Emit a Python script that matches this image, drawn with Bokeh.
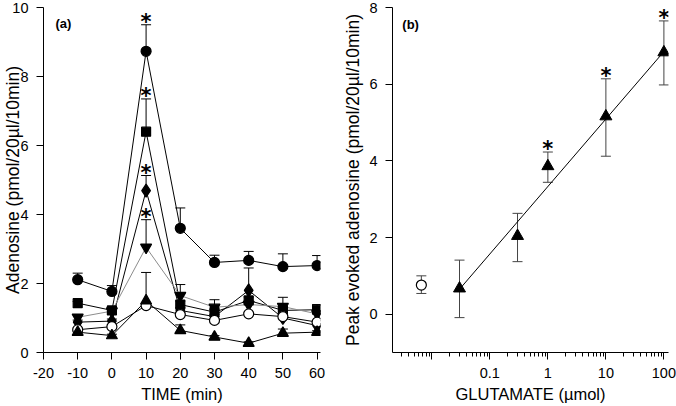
from bokeh.plotting import figure
from bokeh.layouts import row
from bokeh.models import (ColumnDataSource, Whisker, TeeHead, FixedTicker, Label)
from bokeh.core.properties import value
from bokeh.embed import file_html
from bokeh.resources import INLINE

FONT = "Liberation Sans"

# ---------------- Panel (a) data ----------------
time = [-10, 0, 10, 20, 30, 40, 50, 60]
circle_y = [2.11, 1.77, 8.73, 3.60, 2.61, 2.67, 2.49, 2.52]
circle_se = [0.19, 0.17, 0.77, 0.59, 0.21, 0.26, 0.37, 0.29]
square_y = [1.43, 1.22, 6.40, 1.39, 1.17, 1.51, 1.22, 1.24]
square_se = [0.05, 0.06, 0.95, 0.10, 0.08, 0.10, 0.08, 0.15]
diamond_y = [0.88, 0.91, 4.69, 1.22, 1.04, 1.80, 1.00, 0.78]
diamond_se = [0.06, 0.06, 0.44, 0.08, 0.06, 0.65, 0.06, 0.06]
invtri_y = [1.02, 1.20, 3.05, 1.65, 1.31, 1.39, 1.33, 1.12]
invtri_se = [0.08, 0.06, 0.80, 0.32, 0.22, 0.10, 0.27, 0.08]
open_y = [0.66, 0.75, 1.36, 1.10, 0.93, 1.12, 1.04, 0.88]
open_se = [0.04, 0.04, 0.04, 0.04, 0.04, 0.04, 0.04, 0.04]
tri_y = [0.59, 0.49, 1.50, 0.64, 0.45, 0.27, 0.56, 0.59]
tri_se = [0.04, 0.04, 0.82, 0.16, 0.04, 0.04, 0.12, 0.04]
a_star_x = [10, 10, 10, 10]
a_star_top = [9.50, 7.35, 5.13, 3.85]

a_xticks = [-20, -10, 0, 10, 20, 30, 40, 50, 60]
a_xlabels = {-20: "-20", -10: "-10"}
a_yticks = [0, 2, 4, 6, 8, 10]

# ---------------- Panel (b) data ----------------
glu_dose = [0.03, 0.3, 1, 10, 100]
glu_peak = [0.67, 2.04, 3.86, 5.16, 6.83]
glu_lo = [-0.09, 1.37, 3.44, 4.12, 5.98]
glu_hi = [1.41, 2.63, 4.23, 6.14, 7.65]
ctrl_dose = [0.0066]
ctrl_peak = [0.76]
ctrl_lo = [0.54]
ctrl_hi = [1.00]
fit_x = [0.03, 100]
fit_y = [0.65, 6.85]
b_star_x = [1, 10, 100]
b_star_top = [4.23, 6.14, 7.65]

b_major = [0.01, 0.1, 1, 10, 100]
b_labels = {0.01: "", 0.1: "0.1", 1: "1", 10: "10", 100: "100"}
b_yticks = [0, 2, 4, 6, 8]


def style_axes(p):
    p.outline_line_color = None
    p.xgrid.visible = False
    p.ygrid.visible = False
    for ax in (p.xaxis[0], p.yaxis[0]):
        ax.axis_line_color = "black"
        ax.major_tick_line_color = "black"
        ax.minor_tick_line_color = "black"
        ax.major_tick_in = 0
        ax.major_tick_out = 7
        ax.minor_tick_in = 0
        ax.minor_tick_out = 0
        ax.major_label_text_font = FONT
        ax.major_label_text_font_size = "14.5px"
        ax.major_label_text_color = "black"
        ax.axis_label_text_font = FONT
        ax.axis_label_text_font_style = "normal"
        ax.axis_label_text_color = "black"
    p.xaxis.major_label_standoff = 8
    p.yaxis.major_label_standoff = 8
    p.xaxis.axis_label_text_font_size = "16.5px"
    p.xaxis.axis_label_standoff = 4
    p.yaxis.axis_label_text_font_size = "17.5px"


# ---------------- Figure (a) ----------------
pa = figure(width=340, height=406, x_range=(-20, 61), y_range=(0, 10),
            output_backend="svg", toolbar_location=None,
            min_border_left=43, min_border_right=20, min_border_top=7,
            min_border_bottom=54)
pa.background_fill_color = None
pa.border_fill_color = "white"
style_axes(pa)
pa.xaxis.ticker = FixedTicker(ticks=a_xticks)
pa.xaxis.major_label_overrides = a_xlabels
pa.yaxis.ticker = FixedTicker(ticks=a_yticks)
pa.xaxis.axis_label = "TIME (min)"
pa.yaxis.axis_label = "Adenosine (pmol/20µl/10min)"
pa.yaxis.axis_label_standoff = -14

series = [
    (circle_y, circle_se, "circle", "black", "black"),
    (square_y, square_se, "square", "black", "black"),
    (diamond_y, diamond_se, "diamond", "black", "black"),
    (invtri_y, invtri_se, "inverted_triangle", "black", "#8c8c8c"),
    (open_y, open_se, "circle", "white", "black"),
    (tri_y, tri_se, "triangle", "black", "black"),
]

for ys, se, mk, fill, lc in series:
    upper = [y + s for y, s in zip(ys, se)]
    src = ColumnDataSource(dict(x=time, y=ys, lo=ys, hi=upper))
    pa.add_layout(Whisker(source=src, base="x", lower="lo", upper="hi",
                          line_color="black", line_width=1,
                          upper_head=TeeHead(size=10, line_color="black", line_width=1),
                          lower_head=None))
    pa.line("x", "y", source=src, line_color=lc, line_width=1)

sizes = {"circle": 10, "square": 9, "diamond": 13, "inverted_triangle": 11, "triangle": 11}
for ys, se, mk, fill, lc in series:
    pa.scatter(time, ys, marker=mk, size=sizes[mk], fill_color=fill,
               line_color="black", line_width=1.2)

pa.text(a_star_x, a_star_top, text=["*"] * len(a_star_x),
        text_font=value("DejaVu Sans"), text_font_style="bold",
        text_font_size="21px", text_align="center", text_baseline="alphabetic",
        y_offset=-3, text_color="black")
pa.add_layout(Label(x=-16.5, y=9.55, text="(a)", text_font=FONT,
                    text_font_size="13px", text_font_style="bold",
                    text_baseline="middle", text_color="black"))

# ---------------- Figure (b) ----------------
pb = figure(width=336, height=406, x_axis_type="log", x_range=(0.0021, 120),
            y_range=(-1, 8), output_backend="svg", toolbar_location=None,
            min_border_left=49, min_border_right=8, min_border_top=7,
            min_border_bottom=53)
pb.background_fill_color = None
pb.border_fill_color = "white"
style_axes(pb)
minor = []
for dec in [0.001, 0.01, 0.1, 1, 10]:
    for k in range(2, 10):
        v = dec * k
        if 0.0021 <= v <= 100:
            minor.append(v)
pb.xaxis.ticker = FixedTicker(ticks=b_major, minor_ticks=minor)
pb.xaxis.major_label_overrides = b_labels
pb.xaxis.minor_tick_out = 4
pb.yaxis.ticker = FixedTicker(ticks=b_yticks)
pb.xaxis.axis_label = "GLUTAMATE (µmol)"
pb.yaxis.axis_label = "Peak evoked adenosine (pmol/20µl/10min)"
pb.yaxis.axis_label_standoff = 3

srcg = ColumnDataSource(dict(x=glu_dose, y=glu_peak, lo=glu_lo, hi=glu_hi))
pb.add_layout(Whisker(source=srcg, base="x", lower="lo", upper="hi",
                      line_color="#444444", line_width=1,
                      upper_head=TeeHead(size=10, line_color="#444444", line_width=1),
                      lower_head=TeeHead(size=10, line_color="#444444", line_width=1)))
srcc = ColumnDataSource(dict(x=ctrl_dose, y=ctrl_peak, lo=ctrl_lo, hi=ctrl_hi))
pb.add_layout(Whisker(source=srcc, base="x", lower="lo", upper="hi",
                      line_color="#444444", line_width=1,
                      upper_head=TeeHead(size=10, line_color="#444444", line_width=1),
                      lower_head=TeeHead(size=10, line_color="#444444", line_width=1)))
pb.line(fit_x, fit_y, line_color="black", line_width=1)
pb.scatter(glu_dose, glu_peak, marker="triangle", size=12, fill_color="black",
           line_color="black")
pb.scatter(ctrl_dose, ctrl_peak, marker="circle", size=10, fill_color="white",
           line_color="black", line_width=1.2)
pb.text(b_star_x, b_star_top, text=["*"] * len(b_star_x),
        text_font=value("DejaVu Sans"), text_font_style="bold",
        text_font_size="21px", text_align="center", text_baseline="alphabetic",
        y_offset=-3, text_color="black")
pb.add_layout(Label(x=0.0031, y=7.55, text="(b)", text_font=FONT,
                    text_font_size="13px", text_font_style="bold",
                    text_baseline="middle", text_color="black"))

layout = row(pa, pb)
open("out.html", "w").write(file_html(layout, INLINE))
